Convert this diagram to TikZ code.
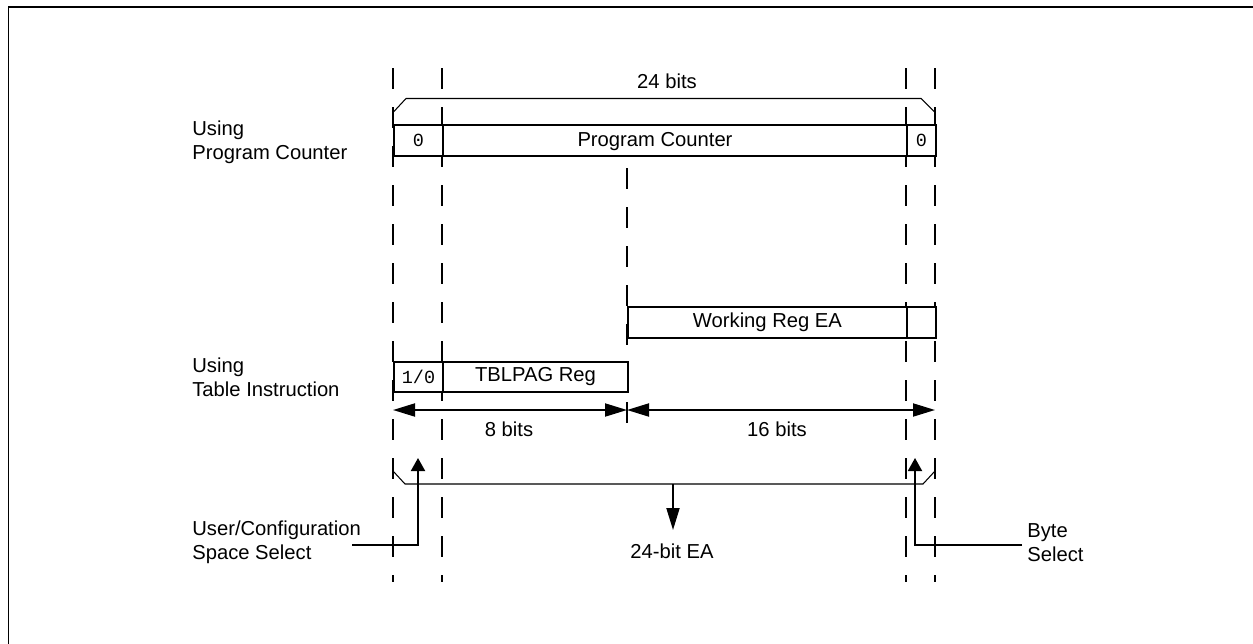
\documentclass[tikz,border=0pt]{standalone}
\usepackage{fontspec}
\setmainfont{Liberation Sans}
\setmonofont{Liberation Mono}
\usetikzlibrary{arrows.meta,positioning}

\begin{document}
\begin{tikzpicture}[
  every node/.style={font=\fontsize{11.5}{13.7}\selectfont, inner sep=0pt},
  field/.style={draw, line width=1.1pt, fill=white, anchor=south west, minimum height=0.62cm},
  bitfont/.style={font=\ttfamily\fontsize{10.5}{12}\selectfont},
  bitcol/.style={line width=1pt, dash pattern=on 0.42cm off 0.36cm},
  brace/.style={line width=0.6pt},
  span/.style={line width=1.1pt, {Triangle[length=0.44cm,width=0.26cm]}-{Triangle[length=0.44cm,width=0.26cm]}},
  ea/.style={line width=1.1pt, -{Triangle[length=0.44cm,width=0.26cm]}},
  sel/.style={line width=1.1pt, -{Triangle[length=0.26cm,width=0.28cm]}},
  side/.style={align=left, anchor=west}]

  \useasboundingbox (0,0) rectangle (25.06,12.86);
  % outer frame (runs off the page at right and bottom)
  \draw[line width=1.1pt] (0.17,-1) -- (0.17,12.72) -- (26,12.72);

  % bit boundaries
  \foreach \x in {7.86,8.84,18.12,18.70}
    \draw[bitcol] (\x,11.50) -- (\x,1.22);
  \draw[bitcol] (12.54,9.50) -- (12.54,4.06);

  % 24 bits
  \draw[brace] (7.86,10.61) -- (8.12,10.89) -- (18.42,10.89) -- (18.70,10.61);
  \node (pcwidth) at (13.34,11.24) {24 bits};

  % Using Program Counter
  \node[side] (pclbl) at (3.84,10.02) {Using\\Program Counter};
  \node[field, bitfont, minimum width=0.98cm] (pc0) at (7.86,9.72) {0};
  \node[field, minimum width=9.28cm] (pcreg) at (8.84,9.72) {};
  \node[field, bitfont, minimum width=0.58cm] (pc1) at (18.12,9.72) {0};
  \node (pctext) at (13.10,10.03) {Program Counter};

  % Working register
  \node[field, minimum width=5.58cm] (wrreg) at (12.54,6.08) {Working Reg EA};
  \node[field, minimum width=0.58cm] (wr1) at (18.12,6.08) {};

  % Using Table Instruction
  \node[side] (tblbl) at (3.84,5.32) {Using\\Table Instruction};
  \node[field, bitfont, minimum width=0.98cm, minimum height=0.60cm] (tb0) at (7.86,5.00) {1/0};
  \node[field, minimum width=3.70cm, minimum height=0.60cm] (tbreg) at (8.84,5.00) {TBLPAG Reg};

  % 8 + 16 bits
  \coordinate (spanL) at (7.86,4.66);
  \coordinate (spanM) at (12.54,4.66);
  \coordinate (spanR) at (18.70,4.66);
  \draw[span] (spanL) -- (spanM);
  \draw[span] (spanM) -- (spanR);
  \node (hiwidth) at (10.18,4.28) {8 bits};
  \node (lowidth) at (15.54,4.28) {16 bits};

  % 24-bit EA
  \draw[brace] (7.86,3.44) -- (8.10,3.18) -- (18.46,3.18) -- (18.70,3.44);
  \coordinate (eatop) at (13.46,3.18);
  \coordinate (eatip) at (13.46,2.26);
  \draw[ea] (eatop) -- (eatip);
  \node (ealbl) at (13.44,1.84) {24-bit EA};

  % select bits
  \node[side] (usrlbl) at (3.84,2.02) {User/Configuration\\Space Select};
  \node[side] (bytelbl) at (20.54,2.01) {Byte\\Select};
  \coordinate (usrfrom) at (7.04,1.96);
  \coordinate (usrtip) at (8.36,3.70);
  \coordinate (bytefrom) at (20.44,1.96);
  \coordinate (bytetip) at (18.30,3.70);
  \draw[sel] (usrfrom) -| (usrtip);
  \draw[sel] (bytefrom) -| (bytetip);
\end{tikzpicture}
\end{document}
